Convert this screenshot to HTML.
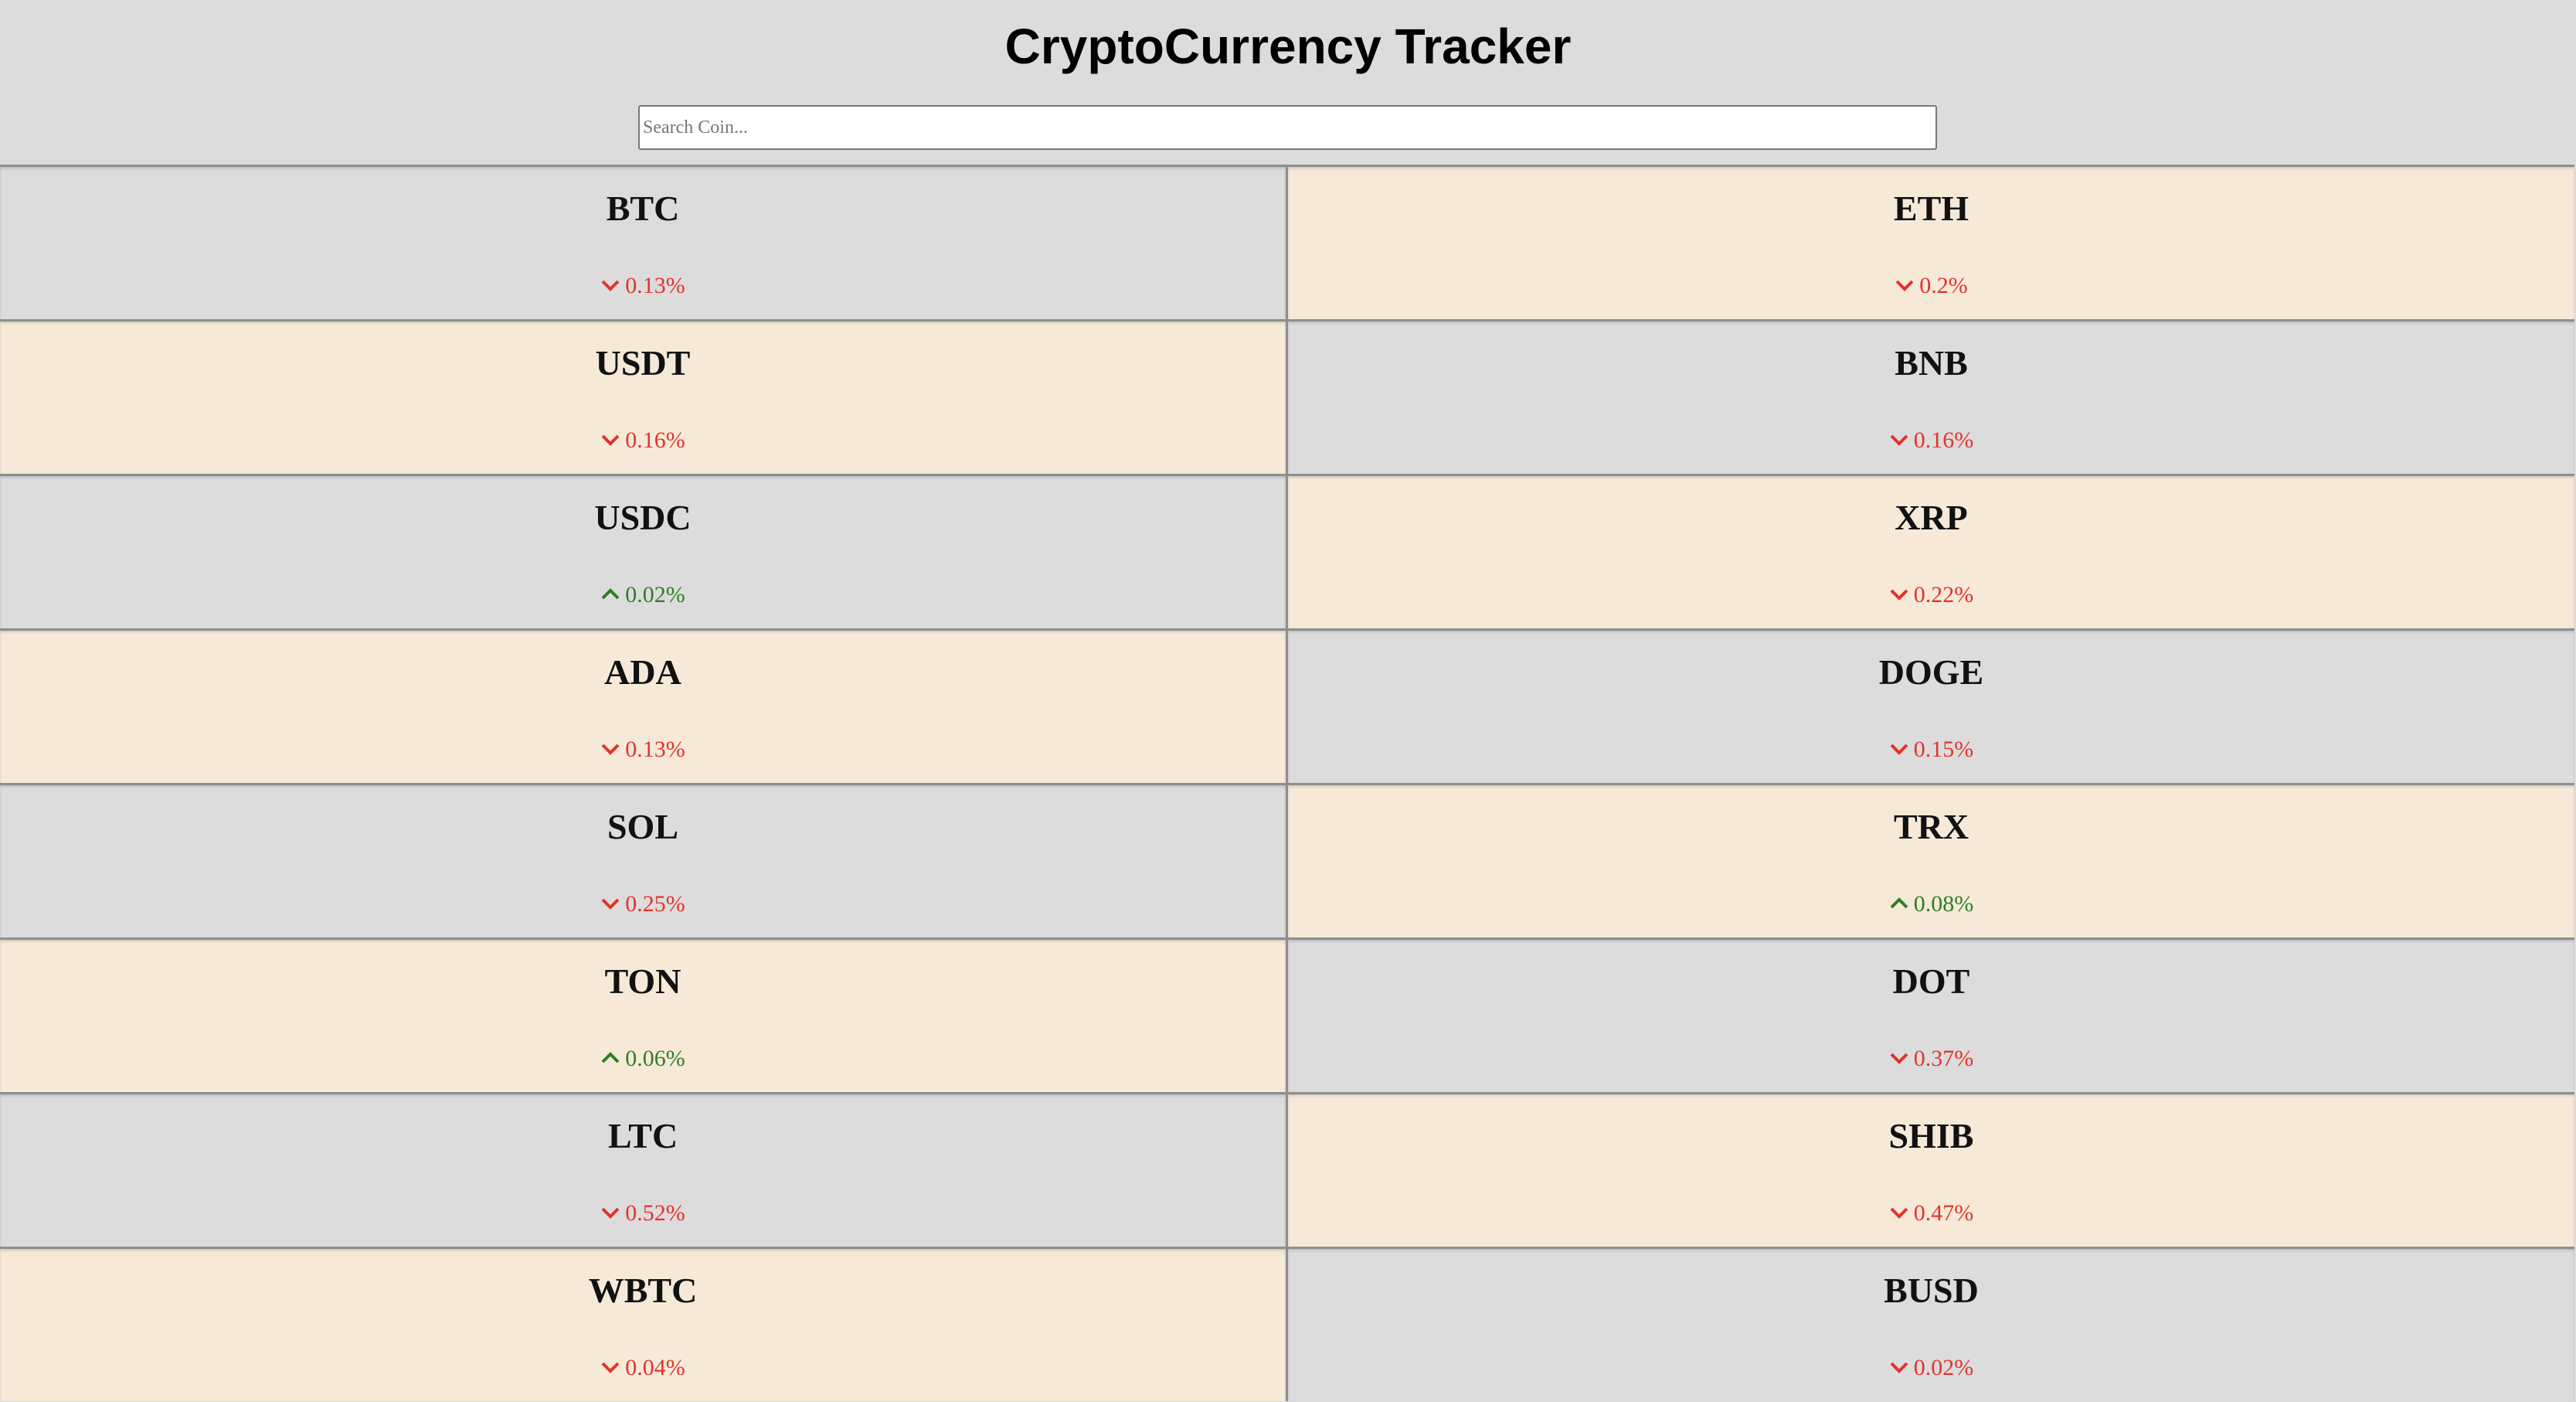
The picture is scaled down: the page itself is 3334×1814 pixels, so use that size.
<!DOCTYPE html>
<html><head><meta charset="utf-8">
<style>
html,body{margin:0;padding:0;width:3334px;height:1814px;overflow:hidden;background:#dcdcdc;}
body{position:relative;font-family:"Liberation Serif",serif;}
#title{position:absolute;left:0;width:3334px;top:16px;text-align:center;font-family:"Liberation Sans",sans-serif;font-weight:bold;font-size:64px;line-height:88px;color:#000;margin:0;}
#search{position:absolute;left:826px;top:136px;width:1677px;height:54px;border:2px solid #777;border-radius:3px;background:#fff;box-sizing:content-box;padding:0;font-family:"Liberation Serif",serif;font-size:24px;color:#777;line-height:54px;}
#search span{padding-left:4px;}
#grid{position:absolute;left:0;top:213px;width:3334px;height:1601px;}
.cell{position:absolute;height:200px;box-sizing:border-box;border-top:3px solid #8e8e8e;box-shadow:inset 0 2px 3px rgba(0,0,0,0.15);}
.gray{background:#dcdcdc;}
.beige{background:#f7e9d8;}
.name{position:absolute;left:0;right:0;top:26px;text-align:center;font-size:46px;font-weight:bold;line-height:56px;color:#111;}
.pct{position:absolute;left:0;right:0;top:134px;text-align:center;font-size:30px;line-height:40px;}
.pct svg{vertical-align:middle;margin-right:6px;position:relative;top:-3px;}
.down{color:#e2332b;}
.up{color:#2f7d25;}
</style></head>
<body>
<h1 id="title">CryptoCurrency Tracker</h1>
<div id="search"><span>Search Coin...</span></div>
<div id="grid"></div>
<script>
const coins = ["BTC","ETH","USDT","BNB","USDC","XRP","ADA","DOGE","SOL","TRX","TON","DOT","LTC","SHIB","WBTC","BUSD"];
const changes = [-0.13,-0.2,-0.16,-0.16,0.02,-0.22,-0.13,-0.15,-0.25,0.08,0.06,-0.37,-0.52,-0.47,-0.04,-0.02];
const grid = document.getElementById('grid');
coins.forEach((c,i)=>{
  const row = Math.floor(i/2), col = i%2;
  const cell = document.createElement('div');
  
  
  cell.className = 'cell ' + (((row+col)%2===0) ? 'gray' : 'beige');
  cell.style.top = (row*200) + 'px';
  cell.style.left = col===0 ? '0px' : '1664px';
  cell.style.width = col===0 ? '1664px' : '1668px';
  if(col===1){cell.style.borderLeft='3px solid #8e8e8e';}
  const n = document.createElement('div');
  
  
  n.className='name'; n.textContent=c;
  const p = document.createElement('div');
  
  
  const v = changes[i];
  const up = v>=0;
  p.className='pct ' + (up?'up':'down');
  const col2 = up ? '#2f7d25' : '#e2332b';
  const pts = up ? '3,17 13,7 23,17' : '3,7 13,17 23,7';
  p.innerHTML = '<svg width="26" height="24" viewBox="0 0 26 24"><polyline points="'+pts+'" fill="none" stroke="'+col2+'" stroke-width="4"/></svg>' + Math.abs(v) + '%';
  cell.appendChild(n); cell.appendChild(p);
  grid.appendChild(cell);
});
</script>
</body></html>
